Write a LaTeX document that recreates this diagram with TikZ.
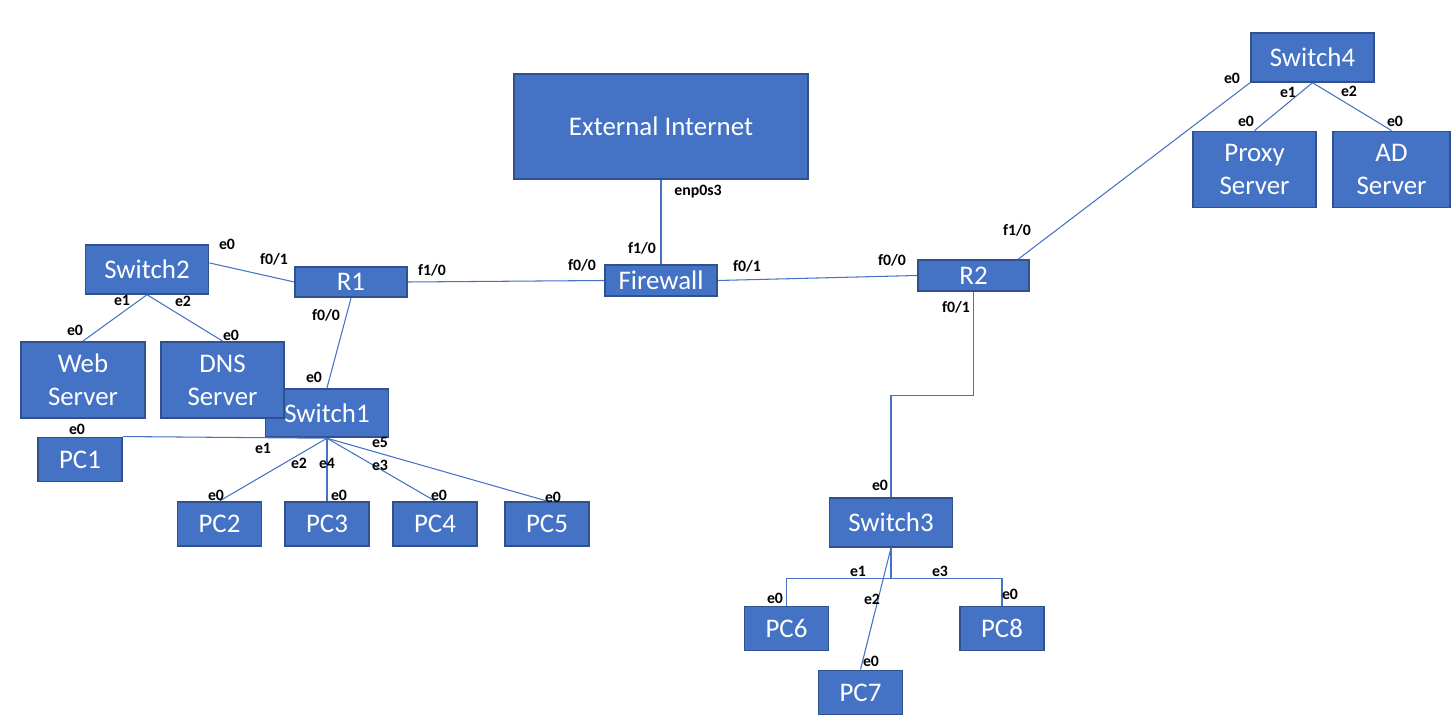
\documentclass[tikz,border=0pt]{standalone}
\usepackage{fontspec}
\setmainfont{Carlito}
\usepackage{xcolor}
\definecolor{Azulred}{RGB}{68,114,196}
\definecolor{Bordered}{RGB}{47,82,143}
\usepackage{tikz}
\usetikzlibrary{calc, positioning}

\begin{document}
\begin{tikzpicture}[
  x=0.02cm, y=-0.02cm,
  every node/.style={font=\fontsize{15.3}{18.8}\selectfont},
  equipo/.style={
    rectangle, draw=Bordered, line width=1.1pt,
    fill=Azulred, text=white, inner sep=0pt,
    align=center
  },
  conmut/.style={equipo, minimum width=2.46cm, minimum height=0.97cm},
  enrutador/.style={equipo, minimum width=2.23cm, minimum height=0.61cm},
  servidor/.style={equipo, minimum width=2.47cm, minimum height=1.52cm},
  pc/.style={equipo, minimum width=1.68cm, minimum height=0.88cm},
  enlace/.style={draw=Azulred, line width=0.6pt},
  etiq/.style={font=\fontsize{9}{10}\selectfont\bfseries, inner sep=0pt}
]
  \useasboundingbox (0,0) rectangle (1453,726);

  % --- Internet y firewall ---
  \node[equipo, minimum width=5.88cm, minimum height=2.1cm] (inet) at (661,126.5) {External Internet};
  \node[enrutador] (fw) at (661,280.5) {Firewall};

  % --- Routers ---
  \node[enrutador] (r1) at (351,282)   {R1};
  \node[enrutador] (r2) at (973.5,275.5) {R2};

  % --- Switches ---
  \node[conmut] (sw2) at (147,269.5)  {Switch2};
  \node[conmut] (sw1) at (327,413)    {Switch1};
  \node[conmut] (sw3) at (891,522.5)  {Switch3};
  \node[conmut] (sw4) at (1312.5,57.5) {Switch4};

  % --- Servidores ---
  \node[servidor] (web)   at (83,380)      {Web\\Server};
  \node[servidor] (dns)   at (222.5,380)   {DNS\\Server};
  \node[servidor] (proxy) at (1254.5,169.5) {Proxy\\Server};
  \node[servidor, minimum width=2.34cm] (ad) at (1391.5,169.5) {AD\\Server};

  % --- PCs ---
  \node[pc] (pc1) at (80,459.5)   {PC1};
  \node[pc] (pc2) at (219.5,524)  {PC2};
  \node[pc] (pc3) at (327,524)    {PC3};
  \node[pc] (pc4) at (435,524)    {PC4};
  \node[pc] (pc5) at (547,524)    {PC5};
  \node[pc] (pc6) at (786.5,628.5) {PC6};
  \node[pc] (pc7) at (860.5,692.5) {PC7};
  \node[pc] (pc8) at (1002,628.5)  {PC8};

  % --- Enlaces ---
  \draw[enlace] (inet.south) -- (fw.north);
  \draw[enlace] (r1.east) -- (fw.west);
  \draw[enlace] (fw.east) -- (r2.west);
  \draw[enlace] (sw2.6) -- (r1.west);
  \draw[enlace] (r1.south) -- (sw1.north);
  \draw[enlace] (sw2.south) -- (web.north);
  \draw[enlace] (sw2.south) -- (dns.north);
  \draw[enlace] (sw1.south) -- (pc1.north east);
  \foreach \p in {pc2, pc3, pc4, pc5}
    \draw[enlace] (sw1.south) -- (\p.north);
  \draw[enlace] (r2.south) -- ++(0,104) -| (sw3.north);
  \draw[enlace] (sw3.south) -- ++(0,31) -| (pc6.north);
  \draw[enlace] (sw3.south) -- ++(0,31) -| (pc8.north);
  \draw[enlace] (sw3.south) -- (pc7.north);
  \draw[enlace] (r2.20) -- (sw4.south west);
  \draw[enlace] (sw4.south) -- (proxy.north);
  \draw[enlace] (sw4.south) -- (ad.north);

  % --- Interfaces ---
  \node[etiq] (l-inet)  at (698,192) {enp0s3};
  \node[etiq] (l-fw1)   at (642,248) {f1/0};
  \node[etiq] (l-fw2)   at (582,265) {f0/0};
  \node[etiq] (l-fw3)   at (747,266) {f0/1};
  \node[etiq] (l-r1a)   at (432,270) {f1/0};
  \node[etiq] (l-r1b)   at (274,259) {f0/1};
  \node[etiq] (l-r1c)   at (326,315) {f0/0};
  \node[etiq] (l-r2a)   at (892,260) {f0/0};
  \node[etiq] (l-r2b)   at (1017,230) {f1/0};
  \node[etiq] (l-r2c)   at (956,307) {f0/1};
  \node[etiq] (l-sw4a)  at (1232,78) {e0};
  \node[etiq] (l-sw4b)  at (1288,92) {e1};
  \node[etiq] (l-sw4c)  at (1349,91) {e2};
  \node[etiq] (l-proxy) at (1246,121) {e0};
  \node[etiq] (l-ad)    at (1395,121) {e0};
  \node[etiq] (l-sw2a)  at (227,244) {e0};
  \node[etiq] (l-sw2b)  at (122,300) {e1};
  \node[etiq] (l-sw2c)  at (183,301) {e2};
  \node[etiq] (l-web)   at (75,330)  {e0};
  \node[etiq] (l-dns)   at (231,335) {e0};
  \node[etiq] (l-sw1a)  at (314,377) {e0};
  \node[etiq] (l-sw1b)  at (263,448) {e1};
  \node[etiq] (l-sw1c)  at (299,463) {e2};
  \node[etiq] (l-sw1d)  at (327,463) {e4};
  \node[etiq] (l-sw1e)  at (380,465) {e3};
  \node[etiq] (l-sw1f)  at (380,442) {e5};
  \node[etiq] (l-pc1)   at (77,429)  {e0};
  \node[etiq] (l-pc2)   at (216,495) {e0};
  \node[etiq] (l-pc3)   at (339,495) {e0};
  \node[etiq] (l-pc4)   at (439,495) {e0};
  \node[etiq] (l-pc5)   at (553,497) {e0};
  \node[etiq] (l-sw3a)  at (880,485) {e0};
  \node[etiq] (l-sw3b)  at (858,571) {e1};
  \node[etiq] (l-sw3c)  at (940,571) {e3};
  \node[etiq] (l-sw3d)  at (872,599) {e2};
  \node[etiq] (l-pc6)   at (775,598) {e0};
  \node[etiq] (l-pc7)   at (871,661) {e0};
  \node[etiq] (l-pc8)   at (1010,594) {e0};
\end{tikzpicture}
\end{document}
